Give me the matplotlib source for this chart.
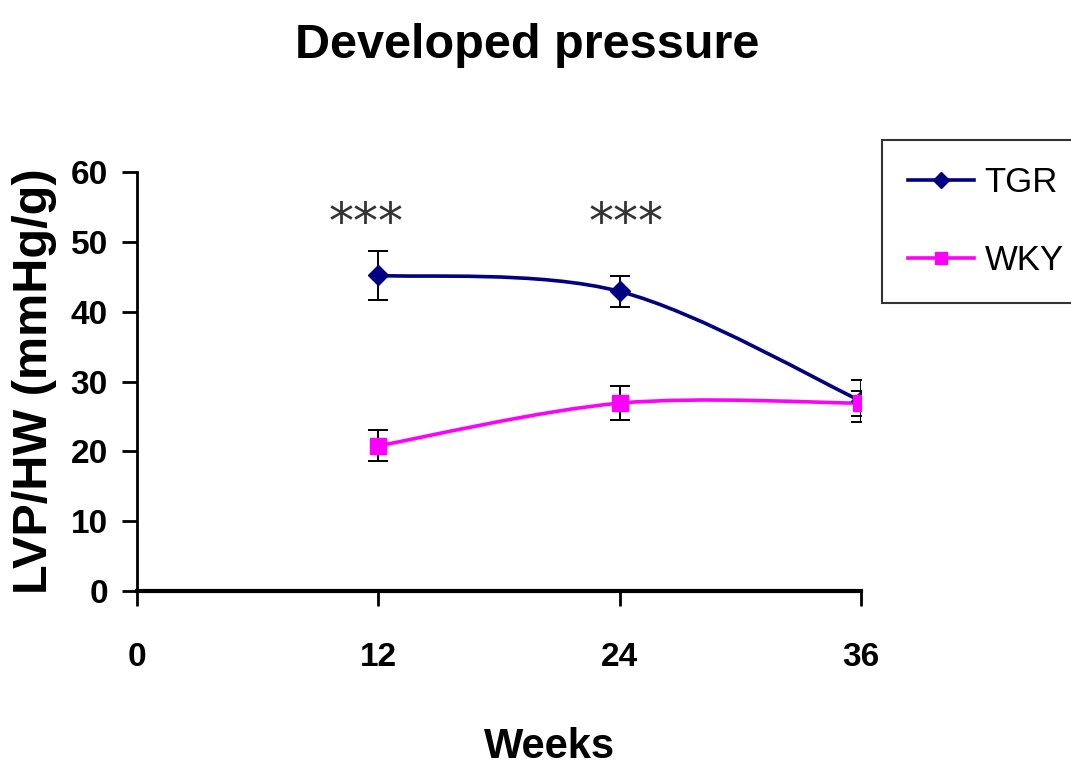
import matplotlib
matplotlib.use("Agg")
import matplotlib.pyplot as plt
from matplotlib import font_manager
from matplotlib.path import Path
from matplotlib.patches import PathPatch
from matplotlib.lines import Line2D
import numpy as np

weeks = [12, 24, 36]
tgr = [45.2, 42.9, 27.2]
tgr_err = [3.5, 2.2, 3.0]
wky = [20.8, 26.9, 26.9]
wky_err = [2.2, 2.4, 1.8]

x_ticks = [0, 12, 24, 36]
y_ticks = [0, 10, 20, 30, 40, 50, 60]
stars = [(11.4, 52.6, "***"), (24.3, 52.6, "***")]

names = {f.name for f in font_manager.fontManager.ttflist}
narrow = "Liberation Sans Narrow" if "Liberation Sans Narrow" in names else "Liberation Sans"
plt.rcParams["font.family"] = [narrow, "DejaVu Sans"]


def smooth_path(xs, ys):
    # excel-like smoothed line: cubic bezier with catmull-rom handles
    pts = np.column_stack([xs, ys]).astype(float)
    n = len(pts)
    tang = []
    for i in range(n):
        a = pts[max(i - 1, 0)]
        b = pts[min(i + 1, n - 1)]
        tang.append((b - a) / 6.0)
    verts = [pts[0]]
    codes = [Path.MOVETO]
    for i in range(n - 1):
        verts += [pts[i] + tang[i], pts[i + 1] - tang[i + 1], pts[i + 1]]
        codes += [Path.CURVE4] * 3
    return Path(verts, codes)


fig = plt.figure(figsize=(10.71, 7.67), dpi=100)
ax = fig.add_axes([0.128, 0.2295, 0.676, 0.5462])

series = [
    ("TGR", tgr, tgr_err, "#000080", "D", 10),
    ("WKY", wky, wky_err, "#FF00FF", "s", 11),
]
handles = []
for name, vals, errs, col, mk, ms in series:
    ax.add_patch(PathPatch(smooth_path(weeks, vals), facecolor="none",
                           edgecolor=col, lw=2.6, zorder=2))
    ax.errorbar(weeks, vals, yerr=errs, fmt="none", ecolor="black",
                elinewidth=1.4, capsize=7, capthick=1.4, zorder=3)
    ax.plot(weeks, vals, linestyle="none", marker=mk, ms=ms, color=col, zorder=4)
    handles.append(Line2D([], [], color=col, lw=2.6, marker=mk, ms=ms * 0.8))

for x, y, s in stars:
    ax.text(x, y, s, ha="center", va="center", fontsize=36, color="#333333",
            family="DejaVu Sans")

ax.set_xlim(0, 36)
ax.set_ylim(0, 60)
ax.set_xticks(x_ticks)
ax.set_yticks(y_ticks)
for s in ["top", "right"]:
    ax.spines[s].set_visible(False)
ax.spines["left"].set_linewidth(2)
ax.spines["bottom"].set_linewidth(3)
ax.tick_params(axis="both", direction="out", length=11, width=2,
               labelsize=24, pad=10)
ax.tick_params(axis="x", pad=26)
for lab in ax.get_xticklabels() + ax.get_yticklabels():
    lab.set_fontweight("bold")

ax.set_xlabel("Weeks", fontsize=30, fontweight="bold")
ax.xaxis.set_label_coords(0.57, -0.325)
ax.set_ylabel("LVP/HW (mmHg/g)", fontsize=35, fontweight="bold", labelpad=10)
fig.text(0.492, 0.924, "Developed pressure", fontsize=35, fontweight="bold",
         ha="center", va="baseline")

leg = fig.legend(handles, ["TGR", "WKY"], loc="upper left",
                 bbox_to_anchor=(0.8235, 0.8175), borderaxespad=0,
                 fontsize=25, frameon=True, fancybox=False, handlelength=1.9,
                 labelspacing=1.3, borderpad=0.75, handletextpad=0.3)
leg.get_frame().set_edgecolor("black")
leg.get_frame().set_linewidth(1.5)

fig.savefig("out.png", dpi=100)
